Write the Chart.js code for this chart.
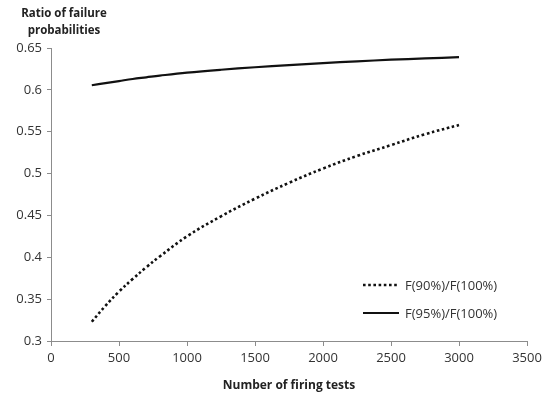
<!DOCTYPE html>
<html>
<head>
<meta charset="utf-8">
<script src="https://cdn.jsdelivr.net/npm/chart.js@4"></script>
<style>
  html, body { margin: 0; padding: 0; background: #fff; }
</style>
</head>
<body>
<canvas id="grafico" width="550" height="393"></canvas>
<script>
var prove = [300, 400, 500, 600, 700, 800, 1000, 1250, 1500, 1750, 2000, 2250, 2500, 2750, 3000];
var ratio90 = [0.323, 0.342, 0.359, 0.374, 0.388, 0.401, 0.425, 0.449, 0.470, 0.489, 0.506, 0.521, 0.534, 0.547, 0.558];
var ratio95 = [0.6055, 0.608, 0.6105, 0.613, 0.615, 0.617, 0.6205, 0.624, 0.627, 0.6295, 0.632, 0.634, 0.636, 0.6375, 0.639];
var etichette = ['F(90%)/F(100%)', 'F(95%)/F(100%)'];
var tickX = [0, 500, 1000, 1500, 2000, 2500, 3000, 3500];
var tickY = ['0.3', '0.35', '0.4', '0.45', '0.5', '0.55', '0.6', '0.65'];
var titoloY = ['Ratio of failure', 'probabilities'];
var titoloX = 'Number of firing tests';

function punti(xs, ys) {
  return xs.map(function(x, i) { return { x: x, y: ys[i] }; });
}

var font = '"Open Sans", "DejaVu Sans", sans-serif';
var grigio = '#8c8c8c';

// legend + y title drawn by hand (legend sits inside the plot)
var extra = {
  id: 'extra',
  afterDraw: function(chart) {
    var ctx = chart.ctx;
    ctx.save();
    ctx.fillStyle = '#222';
    ctx.font = 'bold 11.5px ' + font;
    ctx.textAlign = 'center';
    ctx.textBaseline = 'middle';
    ctx.fillText(titoloY[0], 64, 14);
    ctx.fillText(titoloY[1], 64, 31);

    var righe = [285, 313];
    chart.data.datasets.forEach(function(ds, i) {
      ctx.beginPath();
      ctx.lineWidth = ds.borderWidth;
      ctx.strokeStyle = ds.borderColor;
      ctx.setLineDash(ds.borderDash || []);
      ctx.moveTo(363, righe[i]);
      ctx.lineTo(399, righe[i]);
      ctx.stroke();
      ctx.setLineDash([]);
      ctx.fillStyle = '#333';
      ctx.font = '13px ' + font;
      ctx.textAlign = 'left';
      ctx.fillText(ds.label, 405, righe[i] + 1);
    });
    ctx.restore();
  }
};

new Chart(document.getElementById('grafico'), {
  type: 'line',
  data: {
    datasets: [{
      label: etichette[0],
      data: punti(prove, ratio90),
      borderColor: '#111',
      borderWidth: 2.6,
      borderDash: [2.6, 2.6],
      pointRadius: 0,
      tension: 0.4,
      fill: false
    }, {
      label: etichette[1],
      data: punti(prove, ratio95),
      borderColor: '#111',
      borderWidth: 2.2,
      pointRadius: 0,
      tension: 0.4,
      fill: false
    }]
  },
  options: {
    responsive: false,
    animation: false,
    layout: { padding: { left: 0, right: 23, top: 48, bottom: 0 } },
    plugins: { legend: { display: false }, tooltip: { enabled: false } },
    scales: {
      x: {
        type: 'linear',
        min: 0, max: 3500,
        afterBuildTicks: function(s) { s.ticks = tickX.map(function(v) { return { value: v }; }); },
        ticks: {
          autoSkip: false, maxRotation: 0, color: '#333', font: { family: font, size: 13 }, padding: 4,
          callback: function(v) { return String(v); }
        },
        grid: { display: true, drawOnChartArea: false, drawTicks: true, tickLength: 5, color: grigio },
        border: { color: grigio, width: 1 },
        title: { display: true, text: titoloX, color: '#222', font: { family: font, size: 12, weight: 'bold' }, padding: { top: 5, bottom: 0 } },
        afterFit: function(s) { s.height = 52; }
      },
      y: {
        min: 0.3, max: 0.65,
        afterBuildTicks: function(s) { s.ticks = tickY.map(function(t) { return { value: parseFloat(t) }; }); },
        ticks: {
          autoSkip: false, color: '#333', font: { family: font, size: 13 }, padding: 5,
          callback: function(v, i) { return tickY[i]; }
        },
        grid: { display: true, drawOnChartArea: false, drawTicks: true, tickLength: 4, color: grigio },
        border: { color: grigio, width: 1 },
        afterFit: function(s) { s.width = 51; }
      }
    }
  },
  plugins: [extra]
});
</script>
</body>
</html>
